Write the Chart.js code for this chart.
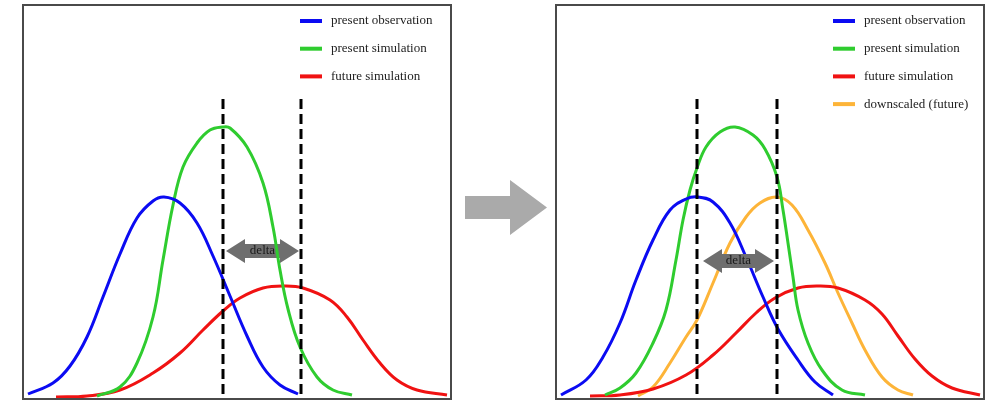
<!DOCTYPE html>
<html>
<head>
<meta charset="utf-8">
<script src="https://cdn.jsdelivr.net/npm/chart.js@4.4.1/dist/chart.umd.min.js"></script>
<style>
  html, body { margin: 0; padding: 0; background: #fff; }
  body { width: 995px; height: 401px; position: relative; overflow: hidden; }
  .panel { position: absolute; top: 0; }
  #left { left: 0; }
  #right { left: 530px; }
  /* big grey arrow between the two panels */
  #step {
    position: absolute; left: 465px; top: 180px; width: 82px; height: 55px;
    background: #aaaaaa;
    clip-path: polygon(0 16px, 45px 16px, 45px 0, 82px 27.5px, 45px 55px, 45px 39px, 0 39px);
  }
</style>
</head>
<body>
<div class="panel" id="left"><canvas id="cLeft" width="460" height="401"></canvas></div>
<div id="step"></div>
<div class="panel" id="right"><canvas id="cRight" width="465" height="401"></canvas></div>
<script>
// ---- Left panel: present observation, present simulation, future simulation ----
const leftObsX = [5, 30, 47, 64, 80, 97, 114, 130, 141, 157, 174, 190, 207, 224, 240, 257, 275];
const leftObsY = [5, 16, 33, 62, 102, 145, 181, 198, 202, 196, 176, 143, 103, 63, 32, 14, 5];

const leftSimX = [74, 97, 114, 130, 140, 150, 160, 174, 187, 200, 207, 224, 240, 250, 257, 265, 277, 294, 310, 329];
const leftSimY = [3, 12, 36, 82, 139, 194, 232, 256, 269, 272, 271, 252, 216, 172, 129, 90, 52, 22, 9, 4];

const leftFutX = [33, 64, 97, 130, 157, 180, 200, 217, 240, 262, 280, 307, 324, 340, 357, 374, 394, 424];
const leftFutY = [2, 3, 9, 26, 46, 69, 88, 101, 111, 113, 111, 99, 82, 59, 36, 19, 9, 4];

// ---- Right panel: same plus downscaled future ----
const rightObsX = [5, 30, 47, 64, 80, 97, 114, 130, 142, 157, 174, 190, 207, 222, 242, 259, 277];
const rightObsY = [4, 19, 42, 76, 119, 159, 189, 200, 202, 197, 176, 142, 102, 70, 39, 17, 4];

const rightSimX = [49, 64, 80, 97, 110, 120, 127, 134, 141, 150, 164, 179, 197, 209, 221, 227, 232, 237, 242, 252, 266, 286, 309];
const rightSimY = [4, 11, 26, 56, 89, 139, 179, 209, 231, 252, 267, 272, 264, 250, 222, 189, 156, 122, 89, 56, 29, 9, 4];

const rightFutX = [34, 64, 97, 130, 157, 180, 200, 219, 242, 262, 282, 309, 326, 342, 359, 376, 396, 424];
const rightFutY = [3, 4, 10, 24, 44, 66, 86, 101, 111, 113, 111, 99, 85, 63, 40, 23, 11, 4];

const rightDownX = [82, 97, 114, 130, 141, 157, 174, 190, 204, 221, 236, 252, 269, 282, 296, 309, 326, 342, 357];
const rightDownY = [3, 12, 36, 62, 79, 116, 156, 182, 196, 202, 194, 169, 136, 106, 76, 49, 22, 9, 4];

// dashed reference positions, their top, and the delta arrow between them
const leftMarks = [200, 278];
const rightMarks = [141, 221];
const markTop = 300;
const leftDelta = { from: 203, to: 276, level: 148 };
const rightDelta = { from: 147, to: 218, level: 138 };

const seriesNames = ['present observation', 'present simulation', 'future simulation', 'downscaled (future)'];
const seriesColors = ['#0b0bf2', '#2fcc2f', '#f01212', '#fdb438'];

const xRange = { min: 0, max: 428 };
const yRange = { min: 0, max: 394 };

function pts(xs, ys) { return xs.map((x, i) => ({ x: x, y: ys[i] })); }

function series(idx, xs, ys) {
  return {
    label: seriesNames[idx],
    data: pts(xs, ys),
    borderColor: seriesColors[idx],
    backgroundColor: seriesColors[idx],
    borderWidth: 3,
    pointRadius: 0,
    fill: false,
    tension: 0.4
  };
}

function drawDelta(chart, d) {
  const { ctx, scales } = chart;
  const x1 = scales.x.getPixelForValue(d.from);
  const x2 = scales.x.getPixelForValue(d.to);
  const yc = scales.y.getPixelForValue(d.level);
  const h = 19, hh = 12, sh = 7;
  ctx.save();
  ctx.beginPath();
  ctx.moveTo(x1, yc);
  ctx.lineTo(x1 + h, yc - hh);
  ctx.lineTo(x1 + h, yc - sh);
  ctx.lineTo(x2 - h, yc - sh);
  ctx.lineTo(x2 - h, yc - hh);
  ctx.lineTo(x2, yc);
  ctx.lineTo(x2 - h, yc + hh);
  ctx.lineTo(x2 - h, yc + sh);
  ctx.lineTo(x1 + h, yc + sh);
  ctx.lineTo(x1 + h, yc + hh);
  ctx.closePath();
  ctx.fillStyle = '#6e6e6e';
  ctx.fill();
  ctx.fillStyle = '#1a1a1a';
  ctx.font = '13px "Liberation Serif", "Times New Roman", serif';
  ctx.textAlign = 'center';
  ctx.textBaseline = 'middle';
  ctx.fillText('delta', (x1 + x2) / 2, yc);
  ctx.restore();
}

const schematic = {
  id: 'schematic',
  beforeDatasetsDraw(chart, args, opts) {
    if (!opts.deltaOnTop) drawDelta(chart, opts.delta);
  },
  afterDatasetsDraw(chart, args, opts) {
    const { ctx, scales, chartArea } = chart;
    // dashed vertical markers
    ctx.save();
    ctx.strokeStyle = '#000';
    ctx.lineWidth = 3;
    ctx.setLineDash([10, 5]);
    opts.marks.forEach(m => {
      const px = scales.x.getPixelForValue(m);
      ctx.beginPath();
      ctx.moveTo(px, scales.y.getPixelForValue(markTop));
      ctx.lineTo(px, scales.y.getPixelForValue(0));
      ctx.stroke();
    });
    ctx.restore();
    if (opts.deltaOnTop) drawDelta(chart, opts.delta);

    // legend in the upper right corner
    ctx.save();
    ctx.font = '13px "Liberation Serif", "Times New Roman", serif';
    ctx.textBaseline = 'middle';
    ctx.textAlign = 'left';
    chart.data.datasets.forEach((ds, i) => {
      const y = chartArea.top + 16 + i * 27.7;
      ctx.fillStyle = ds.borderColor;
      ctx.fillRect(chartArea.right - 151, y - 2, 22, 4);
      ctx.fillStyle = '#222';
      ctx.fillText(ds.label, chartArea.right - 120, y);
    });
    ctx.restore();

    // frame
    ctx.save();
    ctx.strokeStyle = '#4a4a4a';
    ctx.lineWidth = 2;
    ctx.strokeRect(chartArea.left, chartArea.top, chartArea.right - chartArea.left, chartArea.bottom - chartArea.top);
    ctx.restore();
  }
};

function makeChart(id, datasets, padding, marks, delta, deltaOnTop) {
  return new Chart(document.getElementById(id), {
    type: 'line',
    data: { datasets: datasets },
    options: {
      responsive: false,
      animation: false,
      devicePixelRatio: 1,
      layout: { padding: padding },
      scales: {
        x: { type: 'linear', min: xRange.min, max: xRange.max, display: false },
        y: { type: 'linear', min: yRange.min, max: yRange.max, display: false }
      },
      plugins: {
        legend: { display: false },
        tooltip: { enabled: false },
        schematic: { marks: marks, delta: delta, deltaOnTop: deltaOnTop }
      }
    },
    plugins: [schematic]
  });
}

makeChart('cLeft', [
  series(0, leftObsX, leftObsY),
  series(1, leftSimX, leftSimY),
  series(2, leftFutX, leftFutY)
], { left: 23, right: 9, top: 5, bottom: 2 }, leftMarks, leftDelta, false);

makeChart('cRight', [
  series(0, rightObsX, rightObsY),
  series(1, rightSimX, rightSimY),
  series(2, rightFutX, rightFutY),
  series(3, rightDownX, rightDownY)
], { left: 26, right: 11, top: 5, bottom: 2 }, rightMarks, rightDelta, true);
</script>
</body>
</html>
